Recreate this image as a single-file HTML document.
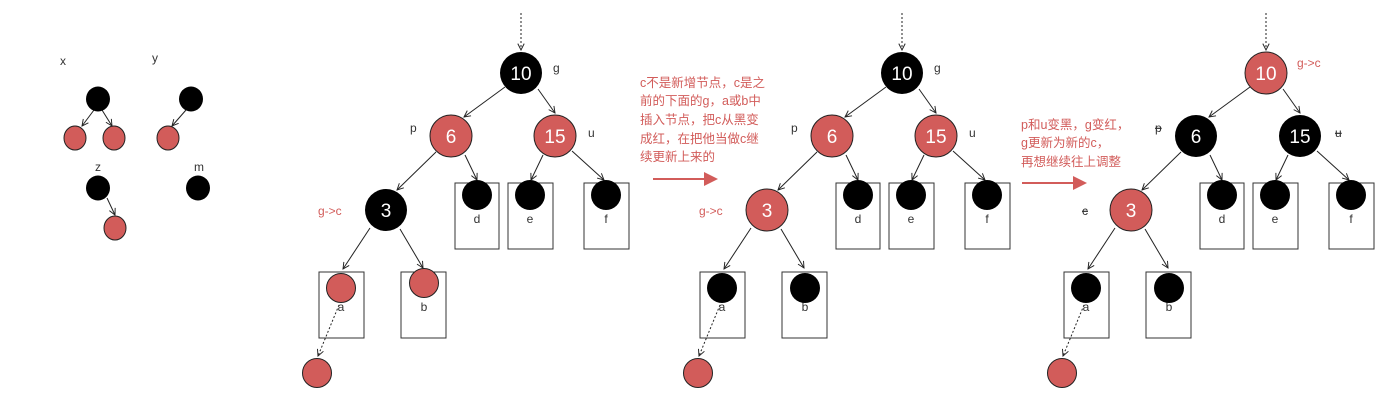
<!DOCTYPE html>
<html><head><meta charset="utf-8"><style>
body{margin:0;background:#fff;width:1396px;height:405px;overflow:hidden}
svg{display:block}
text{font-family:"Liberation Sans","Noto Sans CJK SC",sans-serif}
.lb{font-size:12px;fill:#333}
.rl{font-size:12px;fill:#d25c5a}
.num{font-size:19px;fill:#fff;text-anchor:middle}
.e{stroke:#222;stroke-width:1;fill:none;marker-end:url(#ah)}
.dt{stroke:#222;stroke-width:1;fill:none;stroke-dasharray:2,2;marker-end:url(#ah)}
.bx{fill:none;stroke:#333;stroke-width:1}
.cn{font-size:12.5px;fill:#d25c5a}
</style></head><body>
<svg width="1396" height="405" viewBox="0 0 1396 405">
<defs>
<marker id="ah" viewBox="0 0 10 10" refX="9" refY="5" markerWidth="8" markerHeight="8" orient="auto" markerUnits="userSpaceOnUse"><path d="M1,1 L9,5 L1,9" fill="none" stroke="#222" stroke-width="1.2"/></marker>
</defs>

<!-- left small diagrams -->
<text x="60" y="65" class="lb" font-size="10">x</text>
<text x="152" y="62" class="lb" font-size="10">y</text>
<line x1="94" y1="110" x2="82" y2="126" class="e"/>
<line x1="102" y1="110" x2="112" y2="126" class="e"/>
<line x1="186" y1="110" x2="172" y2="126" class="e"/>
<ellipse cx="98" cy="99" rx="12" ry="12.5" fill="#000"/>
<ellipse cx="75" cy="138" rx="11" ry="12" fill="#d25c5a" stroke="#222"/>
<ellipse cx="114" cy="138" rx="11" ry="12" fill="#d25c5a" stroke="#222"/>
<ellipse cx="191" cy="99" rx="12" ry="12.5" fill="#000"/>
<ellipse cx="168" cy="138" rx="11" ry="12" fill="#d25c5a" stroke="#222"/>
<text x="95" y="171" class="lb" font-size="10">z</text>
<text x="194" y="171" class="lb" font-size="10">m</text>
<line x1="107" y1="198" x2="115" y2="215" class="e"/>
<ellipse cx="98" cy="188" rx="12" ry="12.5" fill="#000"/>
<ellipse cx="115" cy="228" rx="11" ry="12" fill="#d25c5a" stroke="#222"/>
<ellipse cx="198" cy="188" rx="12" ry="12.5" fill="#000"/>

<!-- Tree 1 -->
<g>
<line x1="521" y1="13" x2="521" y2="50" class="dt"/>
<line x1="505" y1="87" x2="464" y2="117" class="e"/>
<line x1="538" y1="89" x2="555" y2="113" class="e"/>
<line x1="436" y1="152" x2="397" y2="190" class="e"/>
<line x1="465" y1="155" x2="477" y2="180" class="e"/>
<line x1="543" y1="155" x2="531" y2="180" class="e"/>
<line x1="572" y1="151" x2="604" y2="180" class="e"/>
<line x1="370" y1="228" x2="343" y2="269" class="e"/>
<line x1="400" y1="229" x2="423" y2="268" class="e"/>
<line x1="339" y1="305" x2="318" y2="356" class="dt"/>
<rect x="455" y="183" width="44" height="66" class="bx"/>
<rect x="508" y="183" width="45" height="66" class="bx"/>
<rect x="584" y="183" width="45" height="66" class="bx"/>
<rect x="319" y="272" width="45" height="66" class="bx"/>
<rect x="401" y="272" width="45" height="66" class="bx"/>
<text x="477" y="223" class="lb" text-anchor="middle" font-size="13">d</text>
<text x="530" y="223" class="lb" text-anchor="middle" font-size="13">e</text>
<text x="606" y="223" class="lb" text-anchor="middle" font-size="13">f</text>
<text x="341" y="311" class="lb" text-anchor="middle" font-size="13">a</text>
<text x="424" y="311" class="lb" text-anchor="middle" font-size="13">b</text>
<circle cx="477" cy="195" r="15" fill="#000"/>
<circle cx="530" cy="195" r="15" fill="#000"/>
<circle cx="606" cy="195" r="15" fill="#000"/>
<circle cx="341" cy="288" r="14.5" fill="#d25c5a" stroke="#222"/>
<circle cx="424" cy="283" r="14.5" fill="#d25c5a" stroke="#222"/>
<circle cx="317" cy="373" r="14.5" fill="#d25c5a" stroke="#222"/>
<circle cx="521" cy="73" r="21" fill="#000"/>
<circle cx="451" cy="136" r="21" fill="#d25c5a" stroke="#222"/>
<circle cx="555" cy="136" r="21" fill="#d25c5a" stroke="#222"/>
<circle cx="386" cy="210" r="21" fill="#000"/>
<text x="521" y="80" class="num">10</text>
<text x="451" y="143" class="num">6</text>
<text x="555" y="143" class="num">15</text>
<text x="386" y="217" class="num">3</text>
<text x="553" y="72" class="lb" font-size="13">g</text>
<text x="410" y="132" class="lb" font-size="13">p</text>
<text x="588" y="137" class="lb" font-size="13">u</text>
<text x="318" y="215" class="rl">g-&gt;c</text>
</g>

<!-- text block 1 -->
<text class="cn"><tspan x="640" y="87">c不是新增节点，c是之</tspan><tspan x="640" y="105">前的下面的g，a或b中</tspan><tspan x="640" y="124">插入节点，把c从黑变</tspan><tspan x="640" y="143">成红，在把他当做c继</tspan><tspan x="640" y="161">续更新上来的</tspan></text>
<line x1="653" y1="179" x2="706" y2="179" stroke="#d25c5a" stroke-width="2"/>
<polygon points="704,172 718,179 704,186" fill="#d25c5a"/>

<!-- Tree 2 -->
<g transform="translate(381,0)">
<line x1="521" y1="13" x2="521" y2="50" class="dt"/>
<line x1="505" y1="87" x2="464" y2="117" class="e"/>
<line x1="538" y1="89" x2="555" y2="113" class="e"/>
<line x1="436" y1="152" x2="397" y2="190" class="e"/>
<line x1="465" y1="155" x2="477" y2="180" class="e"/>
<line x1="543" y1="155" x2="531" y2="180" class="e"/>
<line x1="572" y1="151" x2="604" y2="180" class="e"/>
<line x1="370" y1="228" x2="343" y2="269" class="e"/>
<line x1="400" y1="229" x2="423" y2="268" class="e"/>
<line x1="339" y1="305" x2="318" y2="356" class="dt"/>
<rect x="455" y="183" width="44" height="66" class="bx"/>
<rect x="508" y="183" width="45" height="66" class="bx"/>
<rect x="584" y="183" width="45" height="66" class="bx"/>
<rect x="319" y="272" width="45" height="66" class="bx"/>
<rect x="401" y="272" width="45" height="66" class="bx"/>
<text x="477" y="223" class="lb" text-anchor="middle" font-size="13">d</text>
<text x="530" y="223" class="lb" text-anchor="middle" font-size="13">e</text>
<text x="606" y="223" class="lb" text-anchor="middle" font-size="13">f</text>
<text x="341" y="311" class="lb" text-anchor="middle" font-size="13">a</text>
<text x="424" y="311" class="lb" text-anchor="middle" font-size="13">b</text>
<circle cx="477" cy="195" r="15" fill="#000"/>
<circle cx="530" cy="195" r="15" fill="#000"/>
<circle cx="606" cy="195" r="15" fill="#000"/>
<circle cx="341" cy="288" r="15" fill="#000"/>
<circle cx="424" cy="288" r="15" fill="#000"/>
<circle cx="317" cy="373" r="14.5" fill="#d25c5a" stroke="#222"/>
<circle cx="521" cy="73" r="21" fill="#000"/>
<circle cx="451" cy="136" r="21" fill="#d25c5a" stroke="#222"/>
<circle cx="555" cy="136" r="21" fill="#d25c5a" stroke="#222"/>
<circle cx="386" cy="210" r="21" fill="#d25c5a" stroke="#222"/>
<text x="521" y="80" class="num">10</text>
<text x="451" y="143" class="num">6</text>
<text x="555" y="143" class="num">15</text>
<text x="386" y="217" class="num">3</text>
<text x="553" y="72" class="lb" font-size="13">g</text>
<text x="410" y="132" class="lb" font-size="13">p</text>
<text x="588" y="137" class="lb" font-size="13">u</text>
<text x="318" y="215" class="rl">g-&gt;c</text>
</g>

<!-- text block 2 -->
<text class="cn"><tspan x="1021" y="129">p和u变黑，g变红，</tspan><tspan x="1021" y="147">g更新为新的c，</tspan><tspan x="1021" y="166">再想继续往上调整</tspan></text>
<line x1="1022" y1="183" x2="1075" y2="183" stroke="#d25c5a" stroke-width="2"/>
<polygon points="1073,176 1087,183 1073,190" fill="#d25c5a"/>

<!-- Tree 3 -->
<g transform="translate(745,0)">
<line x1="521" y1="13" x2="521" y2="50" class="dt"/>
<line x1="505" y1="87" x2="464" y2="117" class="e"/>
<line x1="538" y1="89" x2="555" y2="113" class="e"/>
<line x1="436" y1="152" x2="397" y2="190" class="e"/>
<line x1="465" y1="155" x2="477" y2="180" class="e"/>
<line x1="543" y1="155" x2="531" y2="180" class="e"/>
<line x1="572" y1="151" x2="604" y2="180" class="e"/>
<line x1="370" y1="228" x2="343" y2="269" class="e"/>
<line x1="400" y1="229" x2="423" y2="268" class="e"/>
<line x1="339" y1="305" x2="318" y2="356" class="dt"/>
<rect x="455" y="183" width="44" height="66" class="bx"/>
<rect x="508" y="183" width="45" height="66" class="bx"/>
<rect x="584" y="183" width="45" height="66" class="bx"/>
<rect x="319" y="272" width="45" height="66" class="bx"/>
<rect x="401" y="272" width="45" height="66" class="bx"/>
<text x="477" y="223" class="lb" text-anchor="middle" font-size="13">d</text>
<text x="530" y="223" class="lb" text-anchor="middle" font-size="13">e</text>
<text x="606" y="223" class="lb" text-anchor="middle" font-size="13">f</text>
<text x="341" y="311" class="lb" text-anchor="middle" font-size="13">a</text>
<text x="424" y="311" class="lb" text-anchor="middle" font-size="13">b</text>
<circle cx="477" cy="195" r="15" fill="#000"/>
<circle cx="530" cy="195" r="15" fill="#000"/>
<circle cx="606" cy="195" r="15" fill="#000"/>
<circle cx="341" cy="288" r="15" fill="#000"/>
<circle cx="424" cy="288" r="15" fill="#000"/>
<circle cx="317" cy="373" r="14.5" fill="#d25c5a" stroke="#222"/>
<circle cx="521" cy="73" r="21" fill="#d25c5a" stroke="#222"/>
<circle cx="451" cy="136" r="21" fill="#000"/>
<circle cx="555" cy="136" r="21" fill="#000"/>
<circle cx="386" cy="210" r="21" fill="#d25c5a" stroke="#222"/>
<text x="521" y="80" class="num">10</text>
<text x="451" y="143" class="num">6</text>
<text x="555" y="143" class="num">15</text>
<text x="386" y="217" class="num">3</text>
<text x="552" y="67" class="rl">g-&gt;c</text>
<text x="410" y="132" class="lb" font-size="13" text-decoration="line-through">p</text>
<text x="590" y="137" class="lb" font-size="13" text-decoration="line-through">u</text>
<text x="337" y="215" class="lb" font-size="13" text-decoration="line-through">c</text>
</g>
</svg>
</body></html>
